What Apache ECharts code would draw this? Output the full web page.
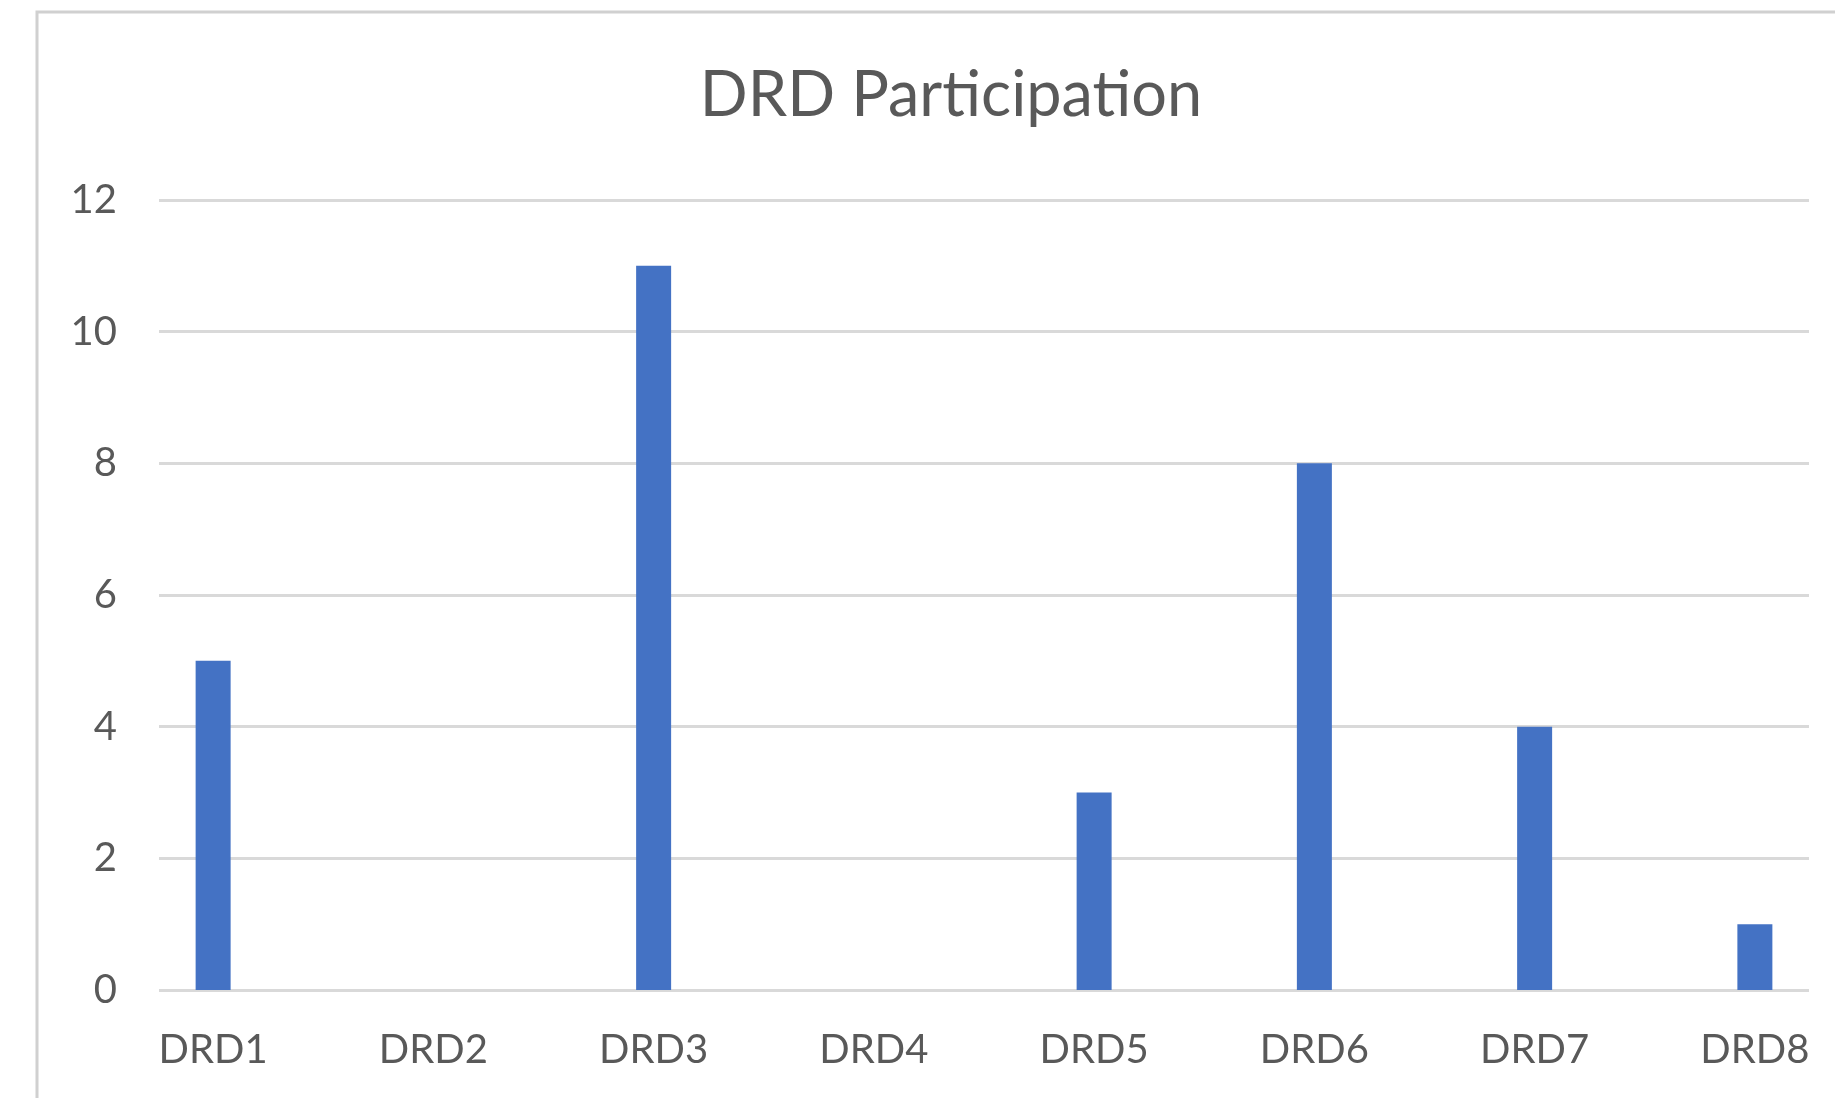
<!DOCTYPE html>
<html>
<head>
<meta charset="utf-8">
<title>DRD Participation</title>
<script src="https://cdn.jsdelivr.net/npm/echarts@6/dist/echarts.min.js"></script>
<style>
  html, body { margin: 0; padding: 0; background: #fff; }
  #chart { width: 1835px; height: 1098px; }
</style>
</head>
<body>
<div id="chart"></div>
<script>
  // data
  const categories = ['DRD1', 'DRD2', 'DRD3', 'DRD4', 'DRD5', 'DRD6', 'DRD7', 'DRD8'];
  const participation = [5, 0, 11, 0, 3, 8, 4, 1];
  const yMin = 0;
  const yMax = 12;
  const yStep = 2;

  const textColor = '#595959';
  const font = 'Lato, "Open Sans", sans-serif';

  const chart = echarts.init(document.getElementById('chart'));

  chart.setOption({
    backgroundColor: '#ffffff',
    animation: false,

    // frame of the chart area (cut off at right and bottom)
    graphic: [{
      type: 'rect',
      shape: { x: 37, y: 12, width: 1900, height: 1200 },
      style: { fill: 'none', stroke: '#d0d0d0', lineWidth: 3 },
      silent: true
    }],

    title: {
      text: 'DRD Participation',
      left: 946,
      top: 59,
      textAlign: 'center',
      textStyle: {
        color: textColor,
        fontFamily: font,
        fontWeight: 'normal',
        fontSize: 63
      }
    },

    // grid 0 carries the gridlines + y labels, grid 1 carries the bars
    // (the bar grid runs past the right edge, the picture is cut there)
    grid: [{
      left: 159,
      width: 1650,
      top: 200,
      height: 790,
      outerBoundsMode: 'none'
    }, {
      left: 103,
      width: 1762,
      top: 200,
      height: 790,
      outerBoundsMode: 'none'
    }],

    xAxis: [{
      gridIndex: 0,
      type: 'category',
      data: categories,
      show: false
    }, {
      gridIndex: 1,
      type: 'category',
      data: categories,
      axisLine: { show: false },
      axisTick: { show: false },
      axisLabel: {
        color: textColor,
        fontFamily: font,
        fontSize: 40,
        margin: 40
      }
    }],

    yAxis: [{
      gridIndex: 0,
      type: 'value',
      min: yMin,
      max: yMax,
      interval: yStep,
      axisLine: { show: false },
      axisTick: { show: false },
      axisLabel: {
        color: textColor,
        fontFamily: font,
        fontSize: 40,
        margin: 42
      },
      splitLine: {
        show: true,
        lineStyle: { color: '#d9d9d9', width: 3 }
      }
    }, {
      gridIndex: 1,
      type: 'value',
      min: yMin,
      max: yMax,
      interval: yStep,
      show: false,
      splitLine: { show: false }
    }],

    series: [{
      name: 'Participation',
      type: 'bar',
      xAxisIndex: 1,
      yAxisIndex: 1,
      data: participation,
      barWidth: 35,
      z: 3,
      itemStyle: { color: '#4472c4' }
    }]
  });
</script>
</body>
</html>
